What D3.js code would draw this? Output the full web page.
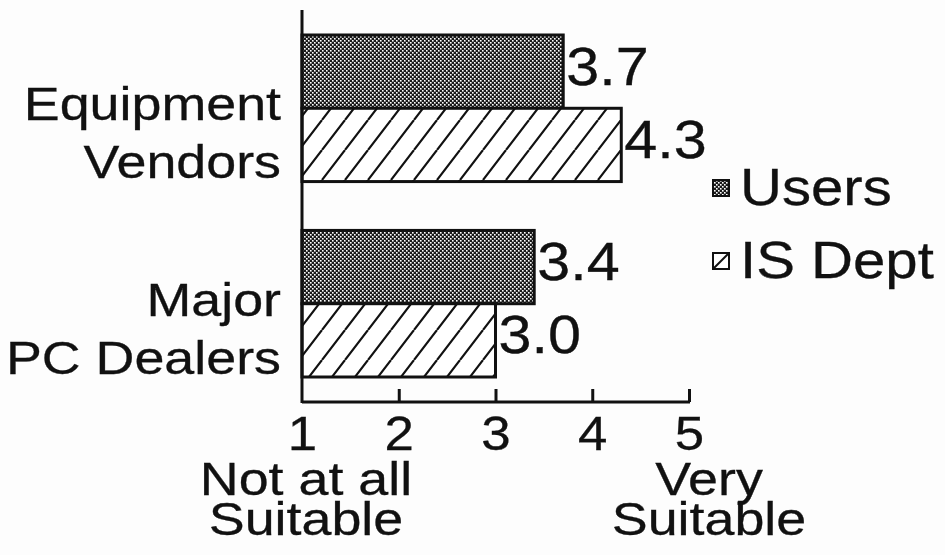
<!DOCTYPE html>
<html><head><meta charset="utf-8">
<script src="https://cdn.jsdelivr.net/npm/d3@7"></script>
<style>
html,body{margin:0;padding:0;background:#fdfdfd;}
text{font-family:"Liberation Sans",Arial,Helvetica,sans-serif;fill:#111;stroke:#111;stroke-width:0.3;}
</style></head>
<body><svg id="c" width="945" height="555"></svg>
<script>
const categories = ["Equipment Vendors", "Major PC Dealers"];
const categoryLines = [["Equipment", "Vendors"], ["Major", "PC Dealers"]];
const series = ["Users", "IS Dept"];
const usersValues = [3.7, 3.4];
const isDeptValues = [4.3, 3.0];
const tickValues = [1, 2, 3, 4, 5];
const axisEndLabels = [["Not at all", "Suitable"], ["Very", "Suitable"]];

const SX = 1.17;
const svg = d3.select("#c");
function addText(parent, x, y, str, size, anchor, sx) {
  return parent.append("text")
    .attr("transform", `translate(${x},${y}) scale(${sx||SX},1)`)
    .attr("text-anchor", anchor || "start")
    .attr("font-size", size).text(str);
}

const defs = svg.append("defs");
const pd = defs.append("pattern").attr("id","dots").attr("patternUnits","userSpaceOnUse")
  .attr("width",4).attr("height",4);
pd.append("rect").attr("width",4).attr("height",4).attr("fill","#1a1a1a");
pd.append("rect").attr("x",0).attr("y",0).attr("width",1.6).attr("height",1.6).attr("fill","#fff");
pd.append("rect").attr("x",2).attr("y",2).attr("width",1.6).attr("height",1.6).attr("fill","#fff");
const ph = defs.append("pattern").attr("id","hatch").attr("patternUnits","userSpaceOnUse")
  .attr("width",23).attr("height",30);
ph.append("rect").attr("width",23).attr("height",30).attr("fill","#fff");
ph.append("path").attr("d","M-23,30L0,0M0,30L23,0M23,30L46,0").attr("stroke","#111").attr("stroke-width",2.2);

const x = d3.scaleLinear().domain([1,5]).range([302,689]);
const y0 = d3.scaleBand().domain(categories).range([35,377]).paddingInner(0.25).paddingOuter(0);
const y1 = d3.scaleBand().domain(series).range([0, y0.bandwidth()]);

const data = categories.map((c,i)=>({cat:c, lines:categoryLines[i], vals:[
  {s:"Users", v:usersValues[i]}, {s:"IS Dept", v:isDeptValues[i]}]}));
const fills = {"Users":"url(#dots)", "IS Dept":"url(#hatch)"};

const g = svg.append("g");
data.forEach(d=>{
  const gy = y0(d.cat);
  d.vals.forEach(b=>{
    g.append("rect").attr("x", x(1)).attr("y", gy + y1(b.s))
      .attr("width", x(b.v)-x(1)).attr("height", y1.bandwidth())
      .attr("fill", fills[b.s]).attr("stroke","#111").attr("stroke-width",3);
    addText(g, x(b.v)+3, gy + y1(b.s) + y1.bandwidth()/2 + 13, b.v.toFixed(1), 53, "start", 1.12);
  });
  const c = gy + y0.bandwidth()/2;
  addText(g, 281, c+12, d.lines[0], 46, "end");
  addText(g, 281, c+70, d.lines[1], 46, "end");
});

// axes
svg.append("line").attr("x1",x(1)).attr("x2",x(1)).attr("y1",10).attr("y2",403).attr("stroke","#111").attr("stroke-width",3);
const axis = d3.axisBottom(x).tickValues(tickValues).tickSize(0).tickFormat(d3.format("d"));
const ax = svg.append("g").attr("transform","translate(0,402)").call(axis);
ax.select(".domain").attr("stroke","#111").attr("stroke-width",3).attr("d",`M${x(1)},0H${x(5)+1}`);
ax.selectAll(".tick text").attr("font-size",48).attr("dy",0).attr("y",0)
  .attr("transform","translate(0,48) scale(1.1,1)")
  .attr("font-family","Liberation Sans, Arial, sans-serif").attr("fill","#111");
ax.selectAll(".tick").filter(d=>d>1).append("line").attr("y1",0).attr("y2",-13).attr("stroke","#111").attr("stroke-width",3);

// end labels
const endPos = [306, 709];
axisEndLabels.forEach((lines,i)=>{
  addText(svg, endPos[i], 495, lines[0], 46, "middle");
  addText(svg, endPos[i], 535, lines[1], 46, "middle");
});

// legend
const lg = svg.append("g");
const legY = [180, 253];
series.forEach((s,i)=>{
  lg.append("rect").attr("x",713).attr("y",legY[i]).attr("width",16).attr("height",16)
    .attr("fill", s==="Users" ? "url(#dots)" : "#fff").attr("stroke","#111").attr("stroke-width",2);
  if (s!=="Users") lg.append("path").attr("d",`M713,${legY[i]+16}L729,${legY[i]}`).attr("stroke","#111").attr("stroke-width",2);
  addText(lg, 740, legY[i]+25, s, 51, "start", 1.14);
});
</script></body></html>
